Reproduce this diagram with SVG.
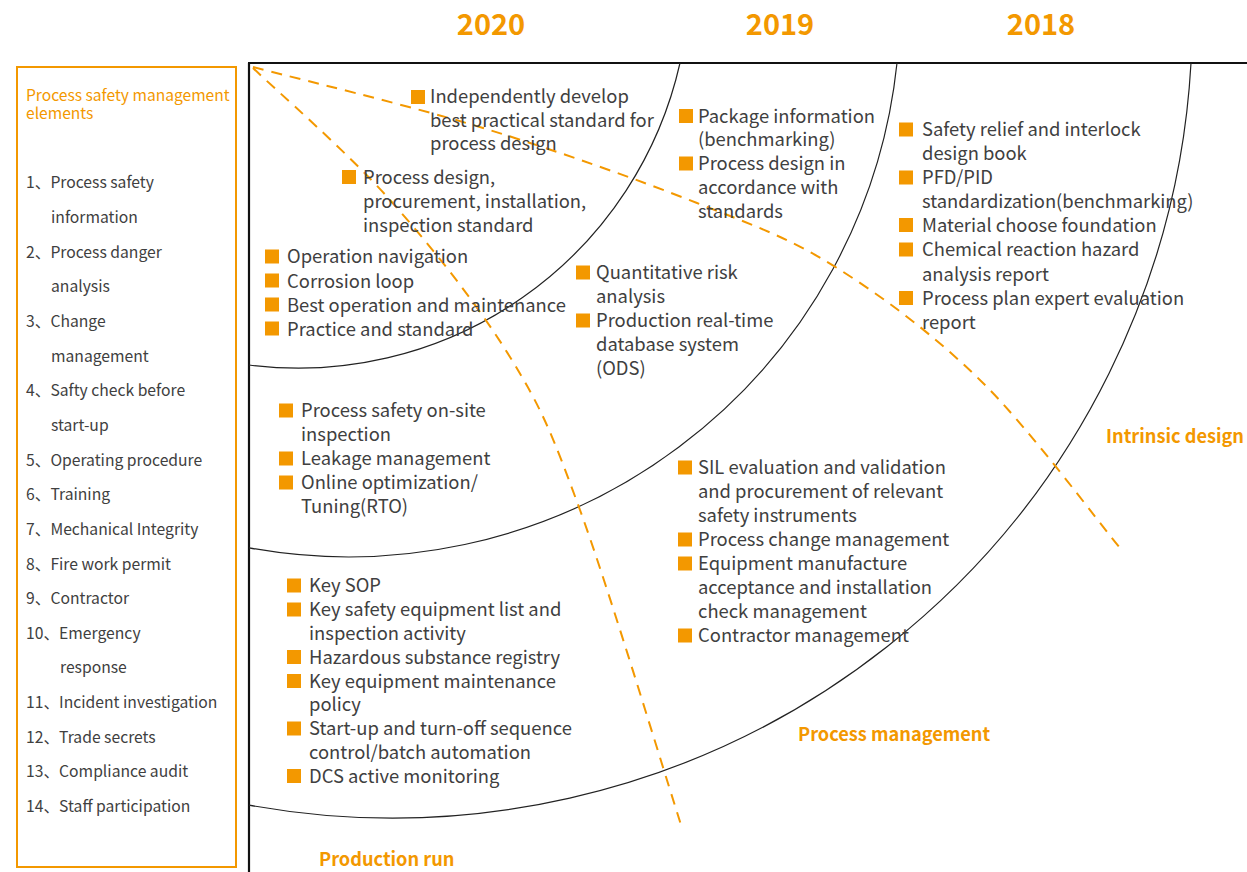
<svg xmlns="http://www.w3.org/2000/svg" width="1247" height="872" viewBox="0 0 1247 872">
<style>
text{font-family:"Noto Sans CJK SC","Noto Sans",sans-serif;}
.it{font-size:18.4px;fill:#404040;}
.lb{font-size:15.7px;fill:#404040;}
.ttl{font-size:15.6px;fill:#F39800;}
.yr{font-size:29px;font-weight:bold;fill:#F39800;text-anchor:middle;}
.rg{font-size:18.2px;font-weight:bold;fill:#F39800;}
.sq{fill:#F39800;}
.arc{fill:none;stroke:#222;stroke-width:1.2;}
.dash{fill:none;stroke:#F39800;stroke-width:2;stroke-dasharray:11 8;}
.axis{fill:none;stroke:#111;stroke-width:2.2;}
</style>
<rect width="1247" height="872" fill="#fff"/>

<g id="legend">
<rect x="17" y="67" width="219" height="800" fill="none" stroke="#F39800" stroke-width="2"/>
<text class="ttl" x="26" y="100.5">Process safety management</text>
<text class="ttl" x="26" y="119">elements</text>
<text class="lb" x="26" y="188.3">1、Process safety</text>
<text class="lb" x="51" y="223">information</text>
<text class="lb" x="26" y="257.6">2、Process danger</text>
<text class="lb" x="51" y="292.3">analysis</text>
<text class="lb" x="26" y="326.9">3、Change</text>
<text class="lb" x="51" y="361.6">management</text>
<text class="lb" x="26" y="396.2">4、Safty check before</text>
<text class="lb" x="51" y="430.9">start-up</text>
<text class="lb" x="26" y="465.5">5、Operating procedure</text>
<text class="lb" x="26" y="500.2">6、Training</text>
<text class="lb" x="26" y="534.8">7、Mechanical Integrity</text>
<text class="lb" x="26" y="569.5">8、Fire work permit</text>
<text class="lb" x="26" y="604.1">9、Contractor</text>
<text class="lb" x="26" y="638.8">10、Emergency</text>
<text class="lb" x="60" y="673.4">response</text>
<text class="lb" x="26" y="708">11、Incident investigation</text>
<text class="lb" x="26" y="742.7">12、Trade secrets</text>
<text class="lb" x="26" y="777.3">13、Compliance audit</text>
<text class="lb" x="26" y="812">14、Staff participation</text>
</g>

<g id="axes">
<line class="axis" x1="249" y1="63" x2="249" y2="872"/>
<line class="axis" x1="248" y1="63" x2="1247" y2="63"/>
</g>

<g id="rings">
<path class="arc" d="M249 365 A391.2 391.2 0 0 0 680 63"/>
<path class="arc" d="M249 547.8 A551.4 551.4 0 0 0 897 63"/>
<path class="arc" d="M249 805.1 A800 800 0 0 0 1191 63"/>
</g>

<g id="connectors">
<path class="dash" d="M253 67 C291.3 77.2 409 105.3 483 128 C557 150.7 638 179.7 697 203 C756 226.3 789.3 238 837 268 C884.7 298 935.8 336.3 983 383 C1030.2 429.7 1097.2 520.5 1120 548"/>
<path class="dash" d="M253 68 C275.8 90 347.2 151.8 390 200 C432.8 248.2 478.3 305.3 510 357 C541.7 408.7 551.3 431.5 580 510 C608.7 588.5 665 775 682 828"/>
</g>

<g id="years">
<text class="yr" x="491" y="35">2020</text>
<text class="yr" x="780" y="35">2019</text>
<text class="yr" x="1041" y="35">2018</text>
</g>

<g id="regions">
<text class="rg" x="1106" y="443">Intrinsic design</text>
<text class="rg" x="798" y="741">Process management</text>
<text class="rg" x="319" y="866">Production run</text>
</g>

<g id="n2020-design">
<rect class="sq" x="411" y="90" width="14" height="14"/>
<text class="it" x="430" y="103.3">Independently develop</text>
<text class="it" x="430" y="126.7">best practical standard for</text>
<text class="it" x="430" y="150">process design</text>
<rect class="sq" x="342" y="170" width="14" height="14"/>
<text class="it" x="363" y="184">Process design,</text>
<text class="it" x="363" y="208">procurement, installation,</text>
<text class="it" x="363" y="232">inspection standard</text>
</g>

<g id="n2020-operation">
<rect class="sq" x="265" y="249.5" width="14" height="14"/>
<text class="it" x="287" y="263.3">Operation navigation</text>
<rect class="sq" x="265" y="273.5" width="14" height="14"/>
<text class="it" x="287" y="287.5">Corrosion loop</text>
<rect class="sq" x="265" y="297.5" width="14" height="14"/>
<text class="it" x="287" y="311.5">Best operation and maintenance</text>
<rect class="sq" x="265" y="321.5" width="14" height="14"/>
<text class="it" x="287" y="335.5">Practice and standard</text>
</g>

<g id="n2019-design">
<rect class="sq" x="679" y="109" width="14" height="14"/>
<text class="it" x="698" y="122.5">Package information</text>
<text class="it" x="698" y="146">(benchmarking)</text>
<rect class="sq" x="679" y="156.5" width="14" height="14"/>
<text class="it" x="698" y="170">Process design in</text>
<text class="it" x="698" y="193.5">accordance with</text>
<text class="it" x="698" y="217.5">standards</text>
</g>

<g id="n2019-risk">
<rect class="sq" x="576" y="265.5" width="14" height="14"/>
<text class="it" x="596" y="279">Quantitative risk</text>
<text class="it" x="596" y="303">analysis</text>
<rect class="sq" x="576" y="313.5" width="14" height="14"/>
<text class="it" x="596" y="327">Production real-time</text>
<text class="it" x="596" y="351">database system</text>
<text class="it" x="596" y="375">(ODS)</text>
</g>

<g id="n2018-design">
<rect class="sq" x="899" y="122.5" width="14" height="14"/>
<text class="it" x="922" y="136">Safety relief and interlock</text>
<text class="it" x="922" y="160">design book</text>
<rect class="sq" x="899" y="170.5" width="14" height="14"/>
<text class="it" x="922" y="184">PFD/PID</text>
<text class="it" x="922" y="207.5">standardization(benchmarking)</text>
<rect class="sq" x="899" y="218" width="14" height="14"/>
<text class="it" x="922" y="231.7">Material choose foundation</text>
<rect class="sq" x="899" y="242.5" width="14" height="14"/>
<text class="it" x="922" y="256">Chemical reaction hazard</text>
<text class="it" x="922" y="280.5">analysis report</text>
<rect class="sq" x="899" y="291" width="14" height="14"/>
<text class="it" x="922" y="305">Process plan expert evaluation</text>
<text class="it" x="922" y="328.5">report</text>
</g>

<g id="n2020-inspection">
<rect class="sq" x="279" y="403.5" width="14" height="14"/>
<text class="it" x="301" y="417.3">Process safety on-site</text>
<text class="it" x="301" y="441">inspection</text>
<rect class="sq" x="279" y="451.5" width="14" height="14"/>
<text class="it" x="301" y="465">Leakage management</text>
<rect class="sq" x="279" y="475.5" width="14" height="14"/>
<text class="it" x="301" y="489">Online optimization/</text>
<text class="it" x="301" y="513.3">Tuning(RTO)</text>
</g>

<g id="n2019-management">
<rect class="sq" x="678" y="460.5" width="14" height="14"/>
<text class="it" x="698" y="474">SIL evaluation and validation</text>
<text class="it" x="698" y="498">and procurement of relevant</text>
<text class="it" x="698" y="522">safety instruments</text>
<rect class="sq" x="678" y="532.5" width="14" height="14"/>
<text class="it" x="698" y="546">Process change management</text>
<rect class="sq" x="678" y="556.5" width="14" height="14"/>
<text class="it" x="698" y="570">Equipment manufacture</text>
<text class="it" x="698" y="594">acceptance and installation</text>
<text class="it" x="698" y="618">check management</text>
<rect class="sq" x="678" y="628.5" width="14" height="14"/>
<text class="it" x="698" y="642">Contractor management</text>
</g>

<g id="n2020-run">
<rect class="sq" x="287" y="578.5" width="14" height="14"/>
<text class="it" x="309" y="592.3">Key SOP</text>
<rect class="sq" x="287" y="602.5" width="14" height="14"/>
<text class="it" x="309" y="616">Key safety equipment list and</text>
<text class="it" x="309" y="640">inspection activity</text>
<rect class="sq" x="287" y="650" width="14" height="14"/>
<text class="it" x="309" y="663.5">Hazardous substance registry</text>
<rect class="sq" x="287" y="674" width="14" height="14"/>
<text class="it" x="309" y="687.5">Key equipment maintenance</text>
<text class="it" x="309" y="711.3">policy</text>
<rect class="sq" x="287" y="721.5" width="14" height="14"/>
<text class="it" x="309" y="735">Start-up and turn-off sequence</text>
<text class="it" x="309" y="758.7">control/batch automation</text>
<rect class="sq" x="287" y="769" width="14" height="14"/>
<text class="it" x="309" y="782.7">DCS active monitoring</text>
</g>
</svg>
